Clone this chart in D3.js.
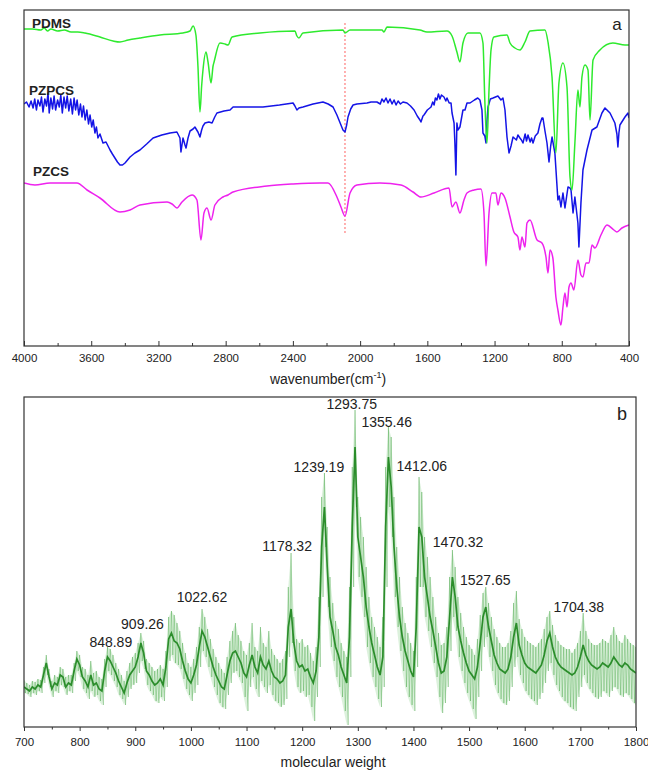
<!DOCTYPE html>
<html>
<head>
<meta charset="utf-8">
<script src="https://cdn.jsdelivr.net/npm/d3@7"></script>
<style>
body { margin: 0; background: #fff; }
text { font-family: Arial, "Liberation Sans", sans-serif; fill: #222; }
</style>
</head>
<body>
<svg id="chart" width="648" height="771"></svg>
<script>
// ---- panel a : FTIR spectra, [wavenumber, transmittance (a.u.)] ----
const pdms = [[4000,317],[3950,317],[3900,316],[3880,318],[3860,315],[3840,317],[3800,315],[3760,316],[3720,314],[3680,314],[3637,313],[3548,309],[3470,305],[3429,304],[3380,306],[3310,308],[3191,311],[3054,313],[3012,315],[2994,320],[2977,311],[2965,280],[2953,234],[2943,260],[2935,276],[2917,294],[2905,284],[2887,263],[2875,280],[2869,284],[2834,303],[2804,302],[2786,301],[2762,309],[2596,313],[2388,315],[2376,310],[2364,308],[2340,313],[2102,316],[2090,313],[2060,316],[1870,316],[1858,314],[1840,319],[1644,316],[1602,314],[1483,315],[1453,310],[1424,294],[1406,284],[1388,303],[1358,313],[1287,313],[1269,303],[1258,246],[1245,203],[1233,256],[1221,296],[1204,309],[1126,311],[1108,303],[1079,298],[1049,296],[1019,304],[989,315],[900,316],[882,304],[858,269],[835,193],[817,263],[793,283],[769,259],[751,169],[739,156],[722,203],[704,256],[692,239],[680,269],[662,281],[644,276],[632,226],[614,286],[573,296],[496,303],[424,301],[400,301]];

const pzpcs = [[4000,242],[3985,244],[3970,239],[3958,245],[3946,238],[3936,247],[3926,236],[3917,246],[3905,240],[3896,249],[3887,234],[3876,247],[3866,240],[3857,253],[3850,233],[3840,248],[3830,237],[3821,250],[3812,236],[3800,246],[3790,239],[3781,251],[3772,233],[3762,249],[3752,238],[3743,250],[3733,235],[3722,247],[3712,232],[3702,248],[3693,236],[3684,246],[3674,231],[3664,242],[3655,229],[3646,240],[3636,226],[3626,236],[3616,222],[3607,231],[3597,219],[3588,226],[3578,213],[3569,219],[3560,208],[3548,212],[3530,203],[3512,204],[3488,196],[3474,192],[3459,188],[3444,184],[3429,181],[3414,181],[3399,183],[3384,186],[3369,189],[3340,193],[3310,196],[3270,202],[3232,208],[3180,211],[3131,213],[3090,214],[3072,208],[3066,194],[3054,208],[3042,201],[3036,198],[3024,208],[3012,215],[2994,217],[2983,219],[2965,214],[2953,209],[2943,216],[2935,220],[2923,223],[2900,224],[2881,223],[2865,229],[2852,233],[2810,235],[2774,236],[2756,239],[2680,239],[2578,239],[2480,241],[2399,243],[2388,240],[2376,236],[2364,238],[2340,239],[2280,242],[2221,244],[2190,242],[2161,239],[2138,231],[2114,221],[2102,216],[2090,214],[2080,221],[2072,229],[2056,237],[2042,241],[2019,242],[1959,243],[1935,244],[1900,244],[1880,242],[1870,247],[1858,244],[1846,248],[1834,243],[1822,247],[1810,242],[1798,246],[1786,241],[1774,245],[1760,242],[1745,244],[1721,243],[1700,240],[1679,236],[1660,230],[1644,226],[1638,224],[1626,230],[1620,231],[1600,236],[1578,239],[1568,244],[1560,241],[1552,248],[1543,246],[1534,252],[1525,247],[1516,251],[1501,249],[1490,245],[1483,248],[1470,243],[1459,243],[1453,233],[1441,223],[1436,203],[1430,171],[1424,223],[1418,216],[1406,219],[1388,236],[1376,236],[1364,243],[1346,243],[1320,246],[1300,248],[1287,246],[1275,236],[1269,213],[1258,210],[1251,203],[1245,225],[1239,239],[1225,247],[1209,248],[1180,250],[1162,246],[1150,248],[1138,236],[1126,209],[1114,193],[1102,200],[1090,209],[1070,206],[1061,211],[1049,208],[1040,206],[1031,203],[1018,212],[1010,205],[1001,211],[988,204],[980,208],[971,203],[958,210],[942,213],[930,222],[918,228],[912,228],[900,215],[888,203],[876,184],[866,200],[858,209],[841,193],[823,146],[815,150],[805,139],[793,153],[781,138],[763,159],[751,158],[745,156],[733,133],[722,149],[704,123],[698,99],[686,143],[674,176],[650,196],[620,216],[591,219],[561,233],[543,238],[513,233],[484,223],[472,212],[466,199],[460,213],[454,221],[424,229],[406,233],[400,228]];

const pzcs = [[4000,163],[3935,161],[3845,163],[3685,163],[3625,156],[3548,148],[3429,134],[3369,136],[3310,141],[3149,144],[3119,142],[3090,138],[3060,144],[3000,151],[2971,146],[2947,106],[2929,133],[2911,138],[2887,126],[2864,141],[2816,149],[2786,151],[2756,154],[2554,160],[2399,162],[2239,163],[2191,163],[2138,149],[2114,139],[2090,130],[2060,153],[2019,161],[1882,163],[1757,161],[1685,154],[1638,149],[1560,153],[1471,158],[1453,139],[1430,144],[1406,133],[1382,146],[1364,153],[1322,156],[1281,157],[1263,133],[1251,80],[1233,133],[1215,153],[1192,153],[1180,141],[1162,153],[1138,148],[1108,129],[1085,114],[1061,109],[1049,96],[1037,109],[1019,99],[1007,123],[989,126],[947,106],[918,103],[894,89],[882,73],[870,96],[853,88],[835,49],[823,36],[805,21],[793,39],[781,53],[769,39],[757,59],[745,63],[728,56],[704,86],[686,71],[674,69],[656,83],[638,83],[620,101],[603,98],[567,111],[531,121],[490,116],[472,114],[442,118],[400,121]];

const irSeries = [
  { name: 'PDMS',  data: pdms,  color: '#2eea2e', label: [3952, 318], smooth: true },
  { name: 'PZPCS', data: pzpcs, color: '#1414e6', label: [3970, 251], smooth: false },
  { name: 'PZCS',  data: pzcs,  color: '#ee22ee', label: [3946, 170], smooth: true }
];
const waveTicks = [4000, 3600, 3200, 2800, 2400, 2000, 1600, 1200, 800, 400];
const waveMinor = [3800, 3400, 3000, 2600, 2200, 1800, 1400, 1000, 600];
const markWave = 2090;          // red dotted guide
const markSpan = [113, 323];

// ---- panel b : mass spectrum, intensity (a.u.) every 5 from 700 ----
const msStart = 700, msStep = 5;
const msCore = [
  40,38,36,40,38,42,40,52,64,50, 38,44,42,52,50,40,44,42,56,68,
  62,50,46,40,52,42,44,38,36,56, 70,66,60,54,46,40,34,44,52,56,
  60,70,84,74,56,52,46,42,44,48, 42,60,88,94,86,84,78,66,56,48,
  44,52,62,80,96,90,80,70,60,52, 46,40,38,52,66,74,76,70,64,54,
  50,62,72,60,54,70,62,58,66,56, 50,48,44,46,52,100,118,84,66,60,
  62,56,58,50,44,56,90,180,220,160, 110,96,80,72,60,52,44,90,200,280,
  190,170,150,120,100,84,72,60,52,70, 200,270,240,180,140,110,90,76,66,56,
  50,100,200,190,150,130,110,96,80,64, 54,56,70,110,150,130,100,86,74,64,
  56,52,48,60,84,110,120,100,86,72, 64,58,56,54,58,70,90,104,82,72,
  64,60,58,56,54,58,62,72,86,94, 80,70,64,60,58,56,54,52,54,60,
  70,82,72,66,62,60,58,60,64,62, 60,64,70,66,62,60,64,62,58,56,
  54];
const msHi = [
  47,44,42,46,45,48,47,60,72,58, 46,52,50,60,58,50,52,52,64,76,
  72,60,58,52,66,54,56,50,48,68, 80,78,72,64,58,52,46,56,64,70,
  74,84,94,86,68,64,60,56,58,62, 58,76,110,116,112,104,96,84,74,64,
  60,68,80,100,118,110,98,88,78,70, 64,58,54,70,86,96,104,92,86,76,
  72,84,104,80,76,100,84,80,96,78, 72,68,64,68,76,140,174,110,88,84,
  88,80,82,74,66,80,130,230,254,200, 150,124,106,98,84,76,70,140,260,317,
  230,210,190,160,130,110,100,90,80,110, 260,300,290,230,180,150,120,104,94,84,
  76,150,250,235,190,170,150,130,110,94, 82,84,100,150,177,160,130,114,100,90,
  82,78,72,88,112,134,140,124,110,98, 90,84,80,80,84,96,124,136,108,98,
  90,86,84,82,80,84,88,98,110,116, 102,92,86,82,80,78,78,74,78,84,
  96,114,96,88,84,82,82,84,88,86, 84,92,100,92,86,84,92,88,84,82,
  80];
const msLo = [
  34,33,30,34,32,36,34,44,52,40, 30,36,34,42,40,32,36,34,46,56,
  50,38,34,28,36,30,32,26,22,40, 56,52,46,40,32,28,22,30,38,42,
  44,54,66,58,42,36,32,26,24,30, 26,40,66,72,64,62,58,48,38,32,
  26,34,42,60,76,70,60,50,40,32, 24,20,18,32,44,54,56,50,44,30,
  16,40,50,38,30,46,40,34,42,32, 26,24,20,22,28,70,84,56,40,34,
  36,30,32,20,6,30,60,130,180,120, 80,66,50,40,30,16,2,50,140,220,
  150,130,110,80,64,50,40,28,20,40, 140,220,190,130,100,76,56,40,30,22,
  16,60,140,140,110,96,80,64,50,30, 14,24,40,76,110,96,70,56,44,34,
  26,18,8,30,56,80,90,70,56,42, 34,28,24,22,26,40,60,70,52,44,
  36,32,28,26,22,28,34,44,56,64, 52,42,36,30,26,24,20,18,16,30,
  40,52,44,38,34,30,28,30,36,34, 30,36,40,38,32,30,34,32,28,24,
  22];
// peak labels: [text, mass at label centre, intensity at baseline]
const msLabels = [
  ['848.89', 856, 80], ['909.26', 913, 98], ['1022.62', 1020, 125],
  ['1178.32', 1173, 176], ['1239.19', 1230, 255], ['1293.75', 1289, 318],
  ['1355.46', 1352, 300], ['1412.06', 1415, 256], ['1470.32', 1480, 180],
  ['1527.65', 1529, 142], ['1704.38', 1697, 115]
];
const massTicks = [700, 800, 900, 1000, 1100, 1200, 1300, 1400, 1500, 1600, 1700, 1800];
const massMinor = [750, 850, 950, 1050, 1150, 1250, 1350, 1450, 1550, 1650, 1750];

const svg = d3.select('#chart');

// scales
const xA = d3.scaleLinear().domain([4000, 400]).range([24, 629]);
const yA = d3.scaleLinear().domain([0, 336]).range([346, 10]);
const xB = d3.scaleLinear().domain([700, 1800]).range([24, 636]);
const yB = d3.scaleLinear().domain([0, 330]).range([727, 397]);

const defs = svg.append('defs');
defs.append('clipPath').attr('id', 'clipA').append('rect')
    .attr('x', xA.range()[0]).attr('y', yA.range()[1])
    .attr('width', xA.range()[1] - xA.range()[0]).attr('height', yA.range()[0] - yA.range()[1]);
defs.append('clipPath').attr('id', 'clipB').append('rect')
    .attr('x', xB.range()[0]).attr('y', yB.range()[1])
    .attr('width', xB.range()[1] - xB.range()[0]).attr('height', yB.range()[0] - yB.range()[1]);

// ---------- panel a ----------
const gA = svg.append('g');
const plotA = gA.append('g').attr('clip-path', 'url(#clipA)');

plotA.append('line')
    .attr('x1', xA(markWave)).attr('x2', xA(markWave))
    .attr('y1', yA(markSpan[0])).attr('y2', yA(markSpan[1]))
    .attr('stroke', '#ff5050').attr('stroke-width', 0.9)
    .attr('stroke-dasharray', '2,2');

// draw PZCS first, then PZPCS, then PDMS on top
[irSeries[2], irSeries[1], irSeries[0]].forEach(s => {
    const line = d3.line().x(d => xA(d[0])).y(d => yA(d[1]))
        .curve(s.smooth ? d3.curveMonotoneX : d3.curveLinear);
    plotA.append('path')
        .datum(s.data)
        .attr('d', line)
        .attr('fill', 'none')
        .attr('stroke', s.color)
        .attr('stroke-width', 1.5)
        .attr('stroke-linejoin', 'round');
});

irSeries.forEach(s => {
    gA.append('text')
        .attr('x', xA(s.label[0])).attr('y', yA(s.label[1]))
        .attr('font-size', 13.5).attr('font-weight', 'bold')
        .text(s.name);
});

gA.append('text').attr('x', xA(472)).attr('y', yA(316))
    .attr('text-anchor', 'middle').attr('font-size', 17).text('a');

const axA = gA.append('g').attr('transform', `translate(0,${yA(0)})`);
axA.call(d3.axisBottom(xA).tickValues(waveTicks).tickSize(-5).tickPadding(8).tickFormat(d3.format('d')));
axA.append('g').call(d3.axisBottom(xA).tickValues(waveMinor).tickSize(-3).tickFormat(''));
axA.selectAll('.domain').remove();
axA.selectAll('line').attr('stroke', '#333');
axA.selectAll('text').attr('font-size', 11.5).attr('font-family', 'Arial, "Liberation Sans", sans-serif').attr('fill', '#222');

gA.append('rect')
    .attr('x', xA.range()[0]).attr('y', yA.range()[1])
    .attr('width', xA.range()[1] - xA.range()[0]).attr('height', yA.range()[0] - yA.range()[1])
    .attr('fill', 'none').attr('stroke', '#333').attr('stroke-width', 1.2);

const titleA = gA.append('text').attr('x', 328).attr('y', 384)
    .attr('text-anchor', 'middle').attr('font-size', 14);
titleA.append('tspan').text('wavenumber(cm');
titleA.append('tspan').attr('font-size', 9).attr('dy', -6).text('-1');
titleA.append('tspan').attr('dy', 6).text(')');

// ---------- panel b ----------
const gB = svg.append('g');
const plotB = gB.append('g').attr('clip-path', 'url(#clipB)');
const massAt = i => msStart + i * msStep;

// faint band between lower and upper envelope
plotB.append('path')
    .datum(msHi.map((h, i) => [massAt(i), msLo[i], h]))
    .attr('d', d3.area().x(d => xB(d[0])).y0(d => yB(d[1])).y1(d => yB(d[2])))
    .attr('fill', '#9ad69a')
    .attr('fill-opacity', 0.35);

// noise spikes: alternate between upper and lower envelope
const spikes = [];
msHi.forEach((h, i) => {
    spikes.push([massAt(i), h]);
    spikes.push([massAt(i) + msStep / 2, msLo[i]]);
});
plotB.append('path')
    .datum(spikes)
    .attr('d', d3.line().x(d => xB(d[0])).y(d => yB(d[1])))
    .attr('fill', 'none')
    .attr('stroke', '#2f9a2f')
    .attr('stroke-opacity', 0.55)
    .attr('stroke-width', 0.6);

plotB.append('path')
    .datum(msCore)
    .attr('d', d3.line().x((d, i) => xB(massAt(i))).y(d => yB(d)))
    .attr('fill', 'none')
    .attr('stroke', '#137f13')
    .attr('stroke-opacity', 0.85)
    .attr('stroke-width', 1.7);

gB.selectAll('text.peak')
    .data(msLabels)
    .join('text')
    .attr('class', 'peak')
    .attr('x', d => xB(d[1])).attr('y', d => yB(d[2]))
    .attr('text-anchor', 'middle').attr('font-size', 14)
    .text(d => d[0]);

gB.append('text').attr('x', xB(1775)).attr('y', yB(307))
    .attr('text-anchor', 'middle').attr('font-size', 18).text('b');

const axB = gB.append('g').attr('transform', `translate(0,${yB(0)})`);
axB.call(d3.axisBottom(xB).tickValues(massTicks).tickSize(4).tickPadding(7).tickFormat(d3.format('d')));
axB.append('g').call(d3.axisBottom(xB).tickValues(massMinor).tickSize(2.5).tickFormat(''));
axB.selectAll('.domain').remove();
axB.selectAll('line').attr('stroke', '#333');
axB.selectAll('text').attr('font-size', 11.5).attr('font-family', 'Arial, "Liberation Sans", sans-serif').attr('fill', '#222');

gB.append('rect')
    .attr('x', xB.range()[0]).attr('y', yB.range()[1])
    .attr('width', xB.range()[1] - xB.range()[0]).attr('height', yB.range()[0] - yB.range()[1])
    .attr('fill', 'none').attr('stroke', '#333').attr('stroke-width', 1.2);

gB.append('text').attr('x', 333).attr('y', 767)
    .attr('text-anchor', 'middle').attr('font-size', 14)
    .text('molecular weight');
</script>
</body>
</html>
